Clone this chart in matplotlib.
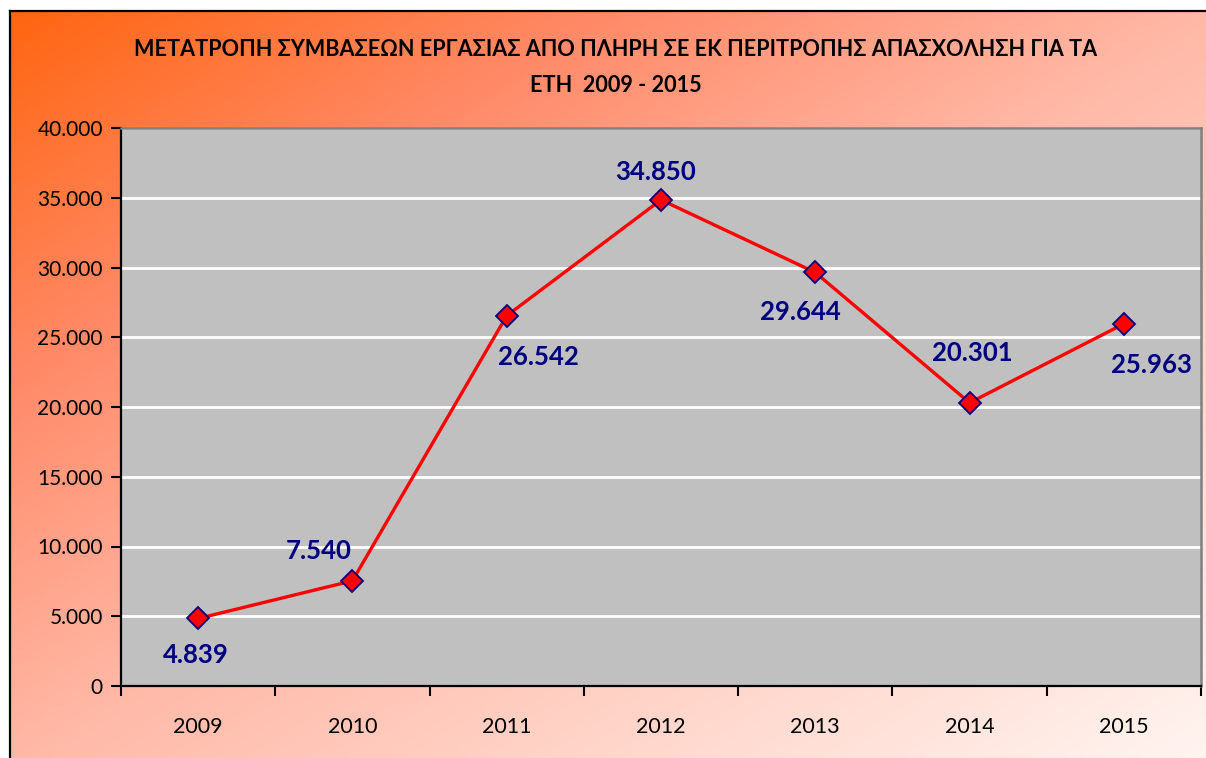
import numpy as np
import matplotlib
matplotlib.use('Agg')
import matplotlib.pyplot as plt
from matplotlib.colors import LinearSegmentedColormap
from matplotlib.lines import Line2D
from matplotlib.ticker import FuncFormatter, MultipleLocator

years = ['2009', '2010', '2011', '2012', '2013', '2014', '2015']
conversions = [4839, 7540, 26542, 34850, 29644, 20301, 25963]
point_labels = ['4.839', '7.540', '26.542', '34.850', '29.644', '20.301', '25.963']
# label offsets from the marker, in pixels (right, down)
label_offsets = [(-2, 37), (-34, -30), (32, 41), (-5, -28), (-15, 40), (3, -50), (28, 41)]

title_lines = ['ΜΕΤΑΤΡΟΠΗ ΣΥΜΒΑΣΕΩΝ ΕΡΓΑΣΙΑΣ ΑΠΟ ΠΛΗΡΗ ΣΕ ΕΚ ΠΕΡΙΤΡΟΠΗΣ ΑΠΑΣΧΟΛΗΣΗ ΓΙΑ ΤΑ',
               'ΕΤΗ  2009 - 2015']

plt.rcParams['font.family'] = ['Lato', 'Open Sans', 'DejaVu Sans']

W, H = 1206, 758
fig = plt.figure(figsize=(W / 100, H / 100), dpi=100)

# gradient background of the chart area
bg = fig.add_axes([0, 0, 1, 1], zorder=-10)
xx, yy = np.meshgrid(np.linspace(0, 1, 400), np.linspace(0, 1, 300))
t = (xx + yy) / 2
cmap = LinearSegmentedColormap.from_list(
    'bg', [(0, '#FF6510'), (0.25, '#FF8A68'), (0.5, '#FFB8A6'), (1, '#FFF4F0')])
bg.imshow(t, cmap=cmap, extent=[10, W, H, 11], aspect='auto', origin='upper')
bg.set_xlim(0, W)
bg.set_ylim(H, 0)
bg.axis('off')
bg.add_line(Line2D([10, 10], [11, H], color='black', lw=1.6))
bg.add_line(Line2D([10, W], [11, 11], color='black', lw=1.6))

fig.text(616 / W, 1 - 50 / H, title_lines[0], ha='center', va='center',
         fontsize=15.6, fontweight='bold', color='black')
fig.text(616 / W, 1 - 85 / H, title_lines[1], ha='center', va='center',
         fontsize=15.6, fontweight='bold', color='black')

ax = fig.add_axes([121 / W, 1 - 686 / H, (1201 - 121) / W, (686 - 128) / H])
ax.set_facecolor('#C0C0C0')

x = np.arange(len(years))
ax.plot(x, conversions, color='#FF0000', lw=2.4, marker='D', markersize=11,
        markerfacecolor='#FF0000', markeredgecolor='#000080', markeredgewidth=1.3,
        zorder=5)

for xi, v, lab, (dx, dy) in zip(x, conversions, point_labels, label_offsets):
    ax.annotate(lab, (xi, v), xytext=(dx * 0.72, -dy * 0.72), textcoords='offset points',
                ha='center', va='center', fontsize=18.5, fontweight='bold', color='#000080',
                zorder=6)

ax.set_xlim(-0.5, len(years) - 0.5)
ax.set_ylim(0, 40000)
ax.yaxis.set_major_locator(MultipleLocator(5000))
ax.yaxis.set_major_formatter(FuncFormatter(lambda v, p: f'{int(v):,}'.replace(',', '.')))
ax.set_xticks(x)
ax.set_xticklabels(years)
ax.set_xticks(np.arange(-0.5, len(years)), minor=True)
ax.tick_params(axis='x', which='major', length=0, labelsize=15.5, pad=22)
ax.tick_params(axis='x', which='minor', length=7, width=1.5, direction='out')
ax.tick_params(axis='y', length=7, width=1.5, direction='out', labelsize=15, pad=6)

ax.grid(axis='y', color='white', lw=2)
ax.set_axisbelow(True)
for side in ['left', 'bottom']:
    ax.spines[side].set_color('black')
    ax.spines[side].set_linewidth(1.6)
for side in ['top', 'right']:
    ax.spines[side].set_color('#808080')
    ax.spines[side].set_linewidth(1.8)

fig.savefig('out.png', dpi=100)
